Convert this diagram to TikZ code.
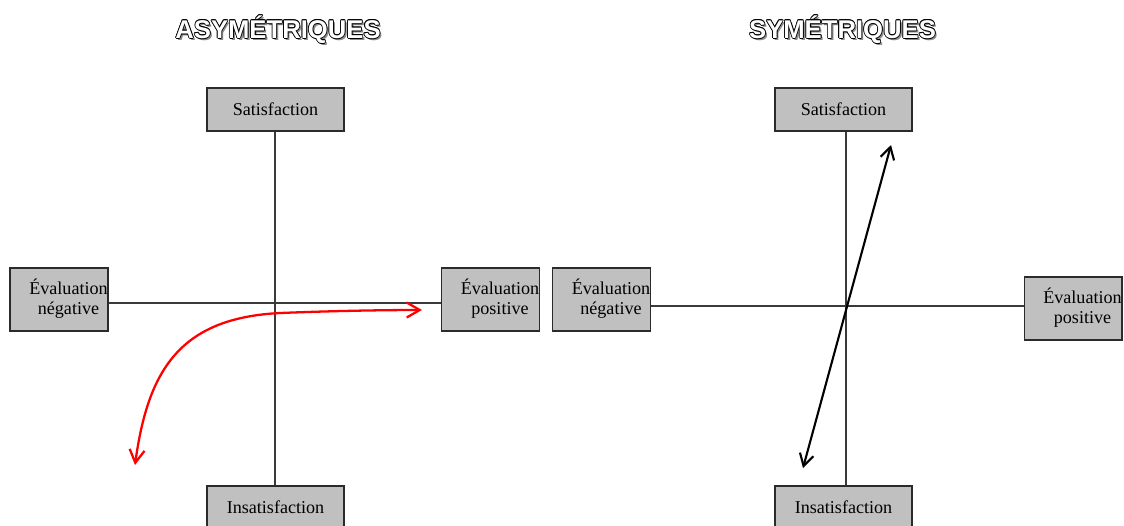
\documentclass[tikz,border=0pt]{standalone}
\usepackage{fontspec}
\setmainfont{Liberation Serif}
\newfontfamily\titlefont{Liberation Sans}
\usepackage{xcolor}
\usepackage{tikz}
\usetikzlibrary{arrows.meta, positioning, calc}
\definecolor{boxfill}{HTML}{C0C0C0}
\definecolor{boxframe}{HTML}{2B2B2B}
\definecolor{axisline}{HTML}{3A3A3A}
\definecolor{shadowgray}{HTML}{8A8A8A}
% one shifted copy of a text, without width
\newcommand\layer[3]{\rlap{\hspace*{#1}\raisebox{#2}{#3}}}
% white letters, dark rim, grey shadow
\newcommand\hollowtext[1]{%
  \layer{1.1pt}{-1.1pt}{\color{shadowgray}#1}%
  \layer{-0.45pt}{0pt}{#1}\layer{0.45pt}{0pt}{#1}%
  \layer{0pt}{0.45pt}{#1}\layer{0pt}{-0.45pt}{#1}%
  \layer{-0.32pt}{-0.32pt}{#1}\layer{0.32pt}{0.32pt}{#1}%
  \layer{-0.32pt}{0.32pt}{#1}\layer{0.32pt}{-0.32pt}{#1}%
  {\color{white}#1}}
\newcommand\evaltext[1]{\hspace*{0.38cm}{\renewcommand\arraystretch{0.95}%
  \begin{tabular}{@{}c@{}}#1\end{tabular}}}
\tikzset{
  state/.style={rectangle, draw=boxframe, fill=boxfill, line width=0.9pt,
                minimum width=2.74cm, minimum height=0.86cm, inner sep=0pt,
                font=\fontsize{10.3}{12}\selectfont},
  eval/.style={state, minimum width=1.96cm, minimum height=1.26cm},
  axis/.style={line width=0.9pt, axisline},
  swing/.style={{Straight Barb[length=2.6mm, width=3mm]}-{Straight Barb[length=2.6mm, width=3mm]},
                line width=1.3pt, red},
  pivot/.style={{Straight Barb[length=2.4mm, width=2.8mm]}-{Straight Barb[length=2.4mm, width=2.8mm]},
                line width=1.2pt, black},
  heading/.style={inner sep=0pt, font=\titlefont\bfseries\fontsize{14.6}{16}\selectfont},
}

\begin{document}
\begin{tikzpicture}[x=0.02cm, y=-0.02cm]
  \useasboundingbox (0,0) rectangle (1124,525);
  % asymmetric
  \begin{scope}
  \node[heading] (tasym) at (278,30) {\hollowtext{ASYMÉTRIQUES}};
  \coordinate (oL) at (275,303);
  \node[state] (satL) at (275.5,109.5) {Satisfaction};
  \node[state] (insL) at (275.5,507.5) {Insatisfaction};
  \node[eval] (negL) at (59,299.5) {\evaltext{Évaluation\\négative}};
  \node[eval] (posL) at (490.5,299.5) {\evaltext{Évaluation\\positive}};
  \draw[axis] (satL.south -| oL) -- (insL.north -| oL);
  \draw[axis] (negL.east |- oL) -- (posL.west |- oL);
  \coordinate (redlow) at (135,465);
  \coordinate (redmid) at (280,313);
  \coordinate (redhigh) at (422,310);
  \draw[swing] (redlow) .. controls (148,370) and (180,318) .. (redmid)
    .. controls (330,311) and (380,310) .. (redhigh);
  \end{scope}
  % symmetric
  \begin{scope}
  \node[heading] (tsym) at (842.5,30) {\hollowtext{SYMÉTRIQUES}};
  \coordinate (oR) at (846,306);
  \node[state] (satR) at (843.5,109.5) {Satisfaction};
  \node[state] (insR) at (843.5,507.5) {Insatisfaction};
  \node[eval] (negR) at (601.5,299.5) {\evaltext{Évaluation\\négative}};
  \node[eval, minimum width=1.88cm] (posR) at (1073,308.5) {\evaltext{Évaluation\\positive}};
  \draw[axis] (satR.south -| oR) -- (insR.north -| oR);
  \draw[axis] (negR.east |- oR) -- (posR.west |- oR);
  \coordinate (blklow) at (803,468);
  \coordinate (blkhigh) at (891,145);
  \draw[pivot] (blklow) -- (blkhigh);
  \end{scope}
\end{tikzpicture}
\end{document}
